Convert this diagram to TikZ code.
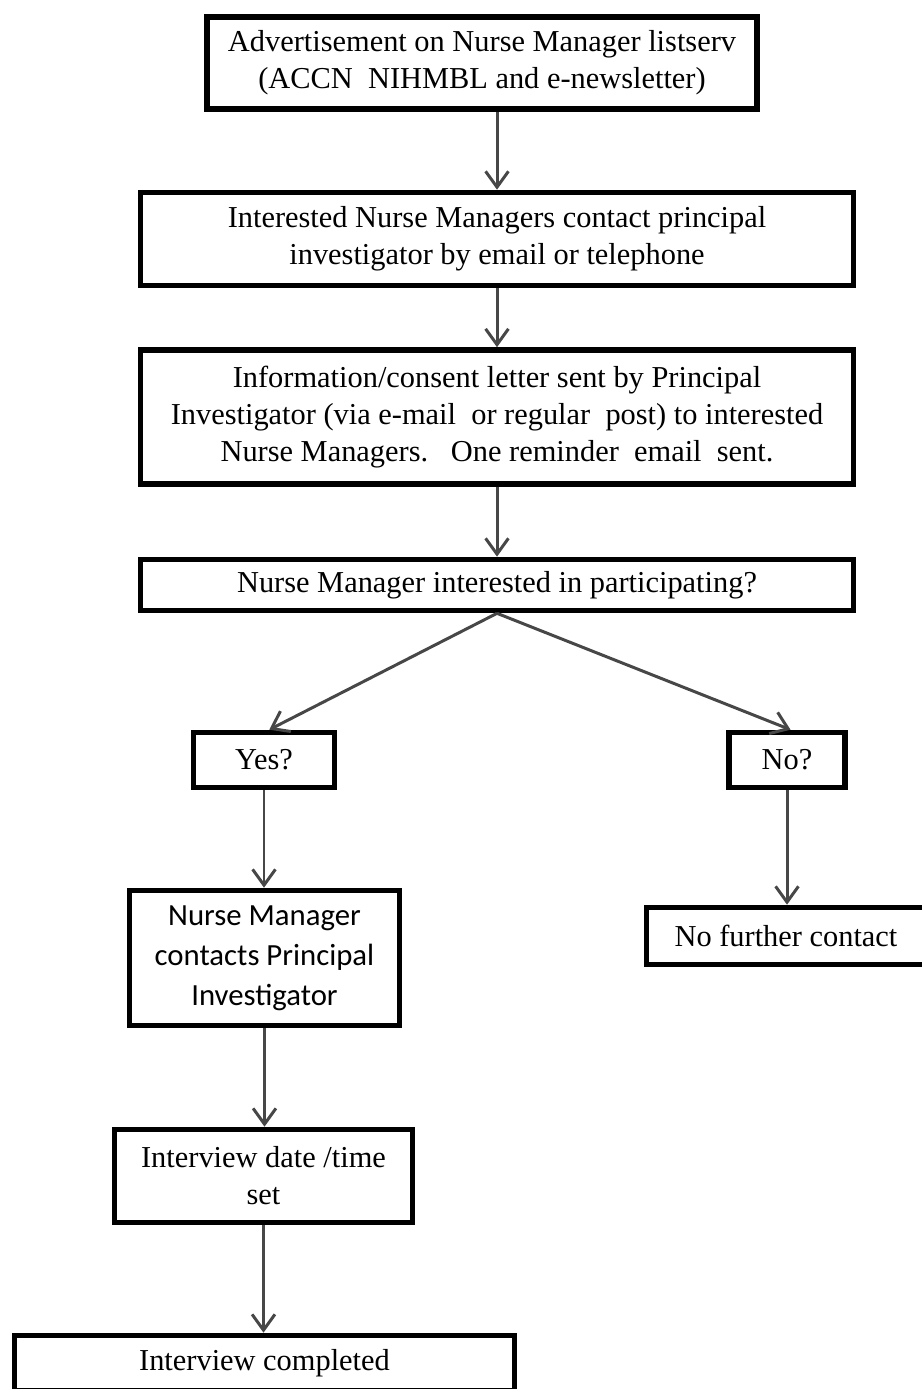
\documentclass[tikz,border=0pt]{standalone}
\usepackage{fontspec}
\setmainfont{Liberation Serif}
\newfontfamily\carlito{Carlito}
\usetikzlibrary{arrows.meta}

\begin{document}
\begin{tikzpicture}[x=0.02cm,y=-0.02cm,
  stepbox/.style={draw,line width=3.2pt,align=center,inner sep=0pt,
    font=\fontsize{17.3}{21}\selectfont},
  flow/.style={-{Straight Barb[length=9pt,width=13pt]},line width=1.7pt,black!72}]
\useasboundingbox (0,0) rectangle (921,1389);

% Top chain
\node[stepbox,minimum width=11cm,minimum height=1.84cm] (advert) at (482,63)
  {Advertisement on Nurse Manager listserv\\(ACCN\ \ NIHMBL and e-newsletter)};
\node[stepbox,minimum width=14.26cm,minimum height=1.86cm] (contactpi) at (497,239)
  {Interested Nurse Managers contact principal\\investigator by email or telephone};
\node[stepbox,minimum width=14.26cm,minimum height=2.68cm] (letter) at (497,417)
  {Information/consent letter sent by Principal\\Investigator (via e-mail\ \ or regular\ \ post) to interested\\Nurse Managers.\ \ \ One reminder\ \ email\ \ sent.};
\node[stepbox,minimum width=14.26cm,minimum height=1.02cm] (interested) at (497,585)
  {Nurse Manager interested in participating?};

% Decision
\node[stepbox,minimum width=2.82cm,minimum height=1.1cm] (yes) at (264,760) {Yes?};
\node[stepbox,minimum width=2.32cm,minimum height=1.1cm] (no) at (787,760) {No?};
\node[stepbox,minimum width=5.58cm,minimum height=1.14cm] (nocontact) at (786,936)
  {No further contact};

% Yes branch
\node[stepbox,minimum width=5.4cm,minimum height=2.7cm,
  font=\carlito\fontsize{17.5}{22.7}\selectfont] (nmcontacts) at (264.5,958)
  {Nurse Manager\\contacts Principal\\Investigator};
\node[stepbox,minimum width=5.96cm,minimum height=1.86cm] (dateset) at (263.5,1176)
  {Interview date /time\\set};
\node[stepbox,minimum width=10cm,minimum height=1.1cm] (done) at (264.5,1363)
  {Interview completed};

% Arrows
\draw[flow] (advert.south -| contactpi.north) -- (contactpi.north);
\draw[flow] (contactpi) -- (letter);
\draw[flow] (letter) -- (interested);
\draw[flow] (interested.south) -- ([xshift=3pt]yes.north);
\draw[flow] (interested.south) -- ([xshift=2pt]no.north);
\draw[flow] (yes.south) -- (yes.south |- nmcontacts.north);
\draw[flow] (no.south) -- (no.south |- nocontact.north);
\draw[flow] (nmcontacts) -- (nmcontacts |- dateset.north);
\draw[flow] (dateset) -- (dateset |- done.north);
\end{tikzpicture}
\end{document}
